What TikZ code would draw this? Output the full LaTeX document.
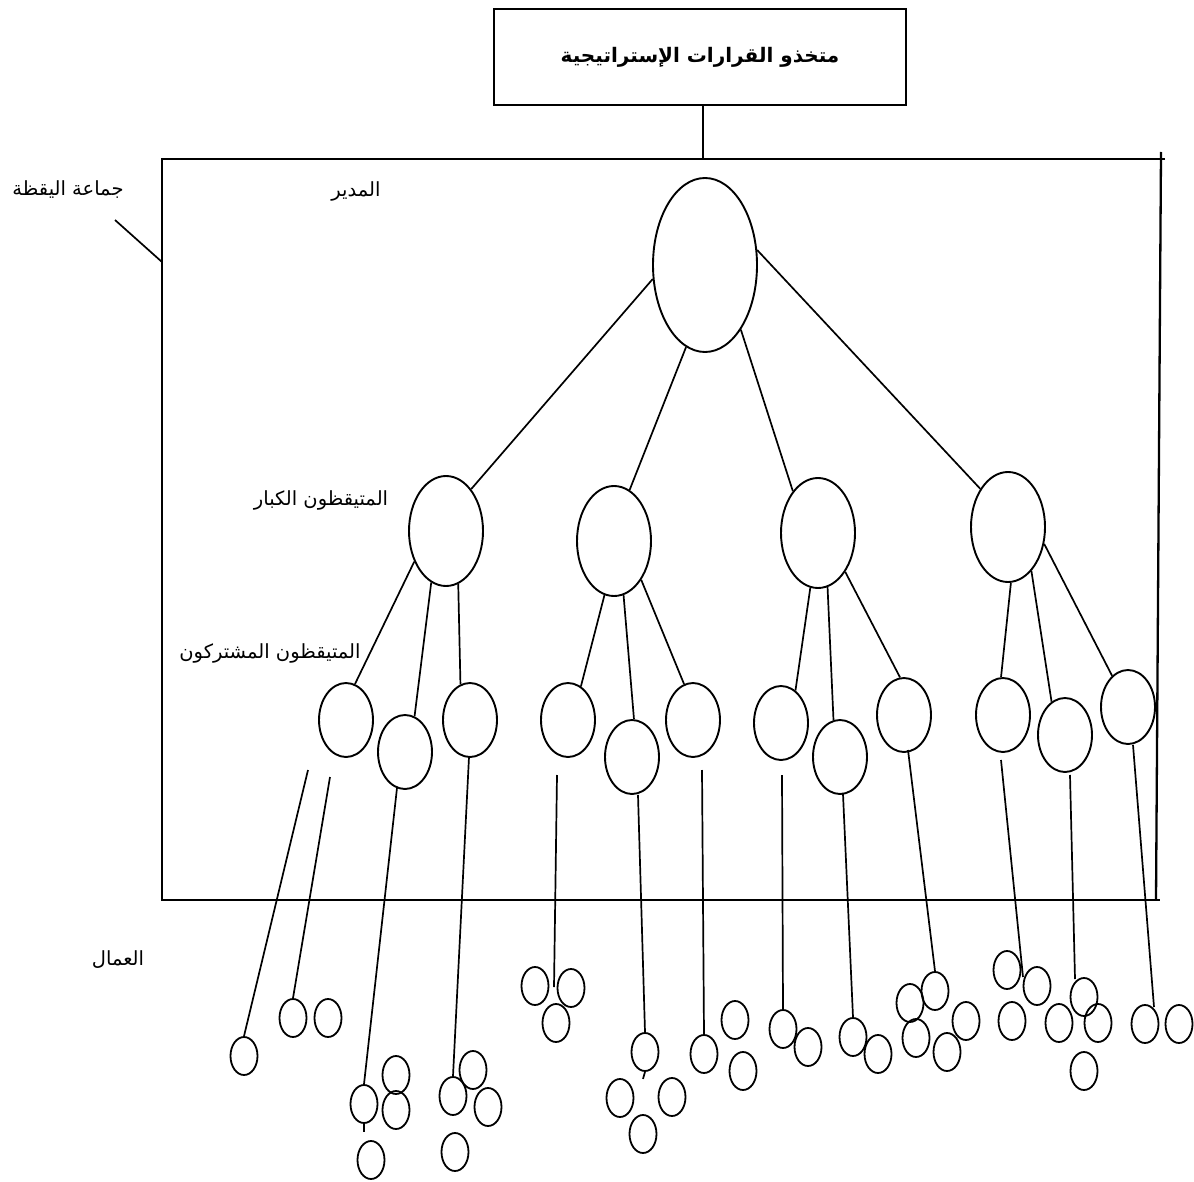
\documentclass[tikz,border=0pt]{standalone}
\usepackage{fontspec}
\usetikzlibrary{shapes.geometric}
\newfontfamily\arabicfont[Script=Arabic]{DejaVu Sans}
\TeXXeTstate=1
\begin{document}
\begin{tikzpicture}[x=1pt,y=-1pt,
 ell/.style={draw, ellipse, inner sep=0pt, line width=1.9pt},
 bigell/.style={ell, minimum width=104pt, minimum height=174pt},
 midell/.style={ell, minimum width=74pt, minimum height=110pt},
 smlell/.style={ell, minimum width=54pt, minimum height=74pt},
 wrk/.style={ell, minimum width=27pt, minimum height=38pt, line width=1.8pt},
 con/.style={line width=1.7pt},
 frameline/.style={line width=2.3pt},
 lbl/.style={font=\arabicfont\fontsize{19.5}{23}\selectfont, inner sep=0pt}]
\useasboundingbox (0,0) rectangle (1194,1182);

% title
\node[draw, line width=2.3pt, minimum width=412pt, minimum height=96pt, inner sep=0pt,
      font=\arabicfont\bfseries\fontsize{20}{24}\selectfont] (title) at (700,57)
      {\beginR متخذو القرارات الإستراتيجية\endR};

% frame
\coordinate (TL) at (162,159);
\coordinate (TR) at (1165,159);
\coordinate (RT) at (1161,152);
\coordinate (RB) at (1156,900);
\coordinate (BL) at (162,900);
\coordinate (BR) at (1160,900);
\coordinate (stemend) at (703,159);
\draw[frameline] (title.south -| stemend) -- (stemend);
\draw[frameline] (TR) -- (TL) -- (BL) -- (BR);
\draw[frameline] (RT) -- (RB);

% labels
\node[lbl] (lgrp) at (68,190) {\beginR جماعة اليقظة\endR};
\coordinate (lgrpA) at (115,220);
\coordinate (lgrpB) at (162,262);
\draw[con] (lgrpA) -- (lgrpB);
\node[lbl] (ldir) at (356,191) {\beginR المدير\endR};
\node[lbl] (lbig) at (321,500) {\beginR المتيقظون الكبار\endR};
\node[lbl] (lcom) at (270,653) {\beginR المتيقظون المشتركون\endR};
\node[lbl] (lwrk) at (118,960) {\beginR العمال\endR};

% top
\node[bigell] (top) at (705,265) {};
% level 2
\node[midell] (A) at (446,531) {};
\node[midell] (B) at (614,541) {};
\node[midell] (C) at (818,533) {};
\node[midell] (D) at (1008,527) {};
\draw[con] (top.195) -- (A.59);
\draw[con] (top.257) -- (B.73);
\draw[con] (top.299) -- (C.121);
\draw[con] (top.16) -- (D.126);

% level 3
\node[smlell] (a1) at (346,720) {};
\node[smlell] (a2) at (405,752) {};
\node[smlell] (a3) at (470,720) {};
\node[smlell] (b1) at (568,720) {};
\node[smlell] (b2) at (632,757) {};
\node[smlell] (b3) at (693,720) {};
\node[smlell] (c1) at (781,723) {};
\node[smlell] (c2) at (840,757) {};
\node[smlell] (c3) at (904,715) {};
\node[smlell] (d1) at (1003,715) {};
\node[smlell] (d2) at (1065,735) {};
\node[smlell] (d3) at (1128,707) {};

\draw[con] (A.224) -- (a1.76);
\draw[con] (A.254) -- (a2.75);
\draw[con] (A.283) -- (a3.105);
\draw[con] (B.260) -- (b1.69);
\draw[con] (B.280) -- (b2.87);
\draw[con] (B.305) -- (b3.104);
\draw[con] (C.262) -- (c1.66);
\draw[con] (C.280) -- (c2.100);
\draw[con] (C.305) -- (c3.96);
\draw[con] (D.273) -- (d1.93);
\draw[con] (D.298) -- (d2.112);
\draw[con] (D.335) -- (d3.117);

% workers
\node[wrk] (w1) at (244,1056) {};
\node[wrk] (w2) at (293,1018) {};
\node[wrk] (w3) at (328,1018) {};
\node[wrk] (w4) at (364,1104) {};
\node[wrk] (w5) at (396,1075) {};
\node[wrk] (w6) at (396,1110) {};
\node[wrk] (w7) at (371,1160) {};
\node[wrk] (w8) at (453,1096) {};
\node[wrk] (w9) at (473,1070) {};
\node[wrk] (w10) at (488,1107) {};
\node[wrk] (w11) at (455,1152) {};
\node[wrk] (w12) at (535,986) {};
\node[wrk] (w13) at (571,988) {};
\node[wrk] (w14) at (556,1023) {};
\node[wrk] (w15) at (645,1052) {};
\node[wrk] (w16) at (620,1098) {};
\node[wrk] (w17) at (672,1097) {};
\node[wrk] (w18) at (643,1134) {};
\node[wrk] (w19) at (704,1054) {};
\node[wrk] (w20) at (735,1020) {};
\node[wrk] (w21) at (743,1071) {};
\node[wrk] (w22) at (783,1029) {};
\node[wrk] (w23) at (808,1047) {};
\node[wrk] (w24) at (853,1037) {};
\node[wrk] (w25) at (878,1054) {};
\node[wrk] (w26) at (935,991) {};
\node[wrk] (w27) at (910,1003) {};
\node[wrk] (w28) at (916,1038) {};
\node[wrk] (w29) at (966,1021) {};
\node[wrk] (w30) at (947,1052) {};
\node[wrk] (w31) at (1007,970) {};
\node[wrk] (w32) at (1037,986) {};
\node[wrk] (w33) at (1012,1021) {};
\node[wrk] (w34) at (1084,997) {};
\node[wrk] (w35) at (1059,1023) {};
\node[wrk] (w36) at (1098,1023) {};
\node[wrk] (w37) at (1084,1071) {};
\node[wrk] (w38) at (1145,1024) {};
\node[wrk] (w39) at (1179,1024) {};

% level 3 -> workers
\coordinate (s1) at (308,770);
\coordinate (s2) at (330,777);
\coordinate (s3) at (397,788);
\coordinate (s4) at (469,757);
\coordinate (s5) at (557,775);
\coordinate (s6) at (638,795);
\coordinate (s7) at (702,770);
\coordinate (s8) at (782,775);
\coordinate (s9) at (843,794);
\coordinate (s10) at (908,750);
\coordinate (s11) at (1001,760);
\coordinate (s12) at (1070,775);
\coordinate (s13) at (1133,745);
\coordinate (e5) at (554,987);
\coordinate (e11) at (1023,977);
\coordinate (e12) at (1075,979);
\coordinate (e13) at (1154,1007);

\draw[con] (s1) -- (w1.north);
\draw[con] (s2) -- (w2.north);
\draw[con] (s3) -- (w4.north);
\draw[con] (s4) -- (w8.north);
\draw[con] (s5) -- (e5);
\draw[con] (s6) -- (w15.north);
\draw[con] (s7) -- (w19.north);
\draw[con] (s8) -- (w22.north);
\draw[con] (s9) -- (w24.north);
\draw[con] (s10) -- (w26.north);
\draw[con] (s11) -- (e11);
\draw[con] (s12) -- (e12);
\draw[con] (s13) -- (e13);
% small ticks
\draw[con] (w4.south) -- ++(0,8);
\draw[con] (w15.south) -- ++(-2,7);
\end{tikzpicture}
\end{document}
